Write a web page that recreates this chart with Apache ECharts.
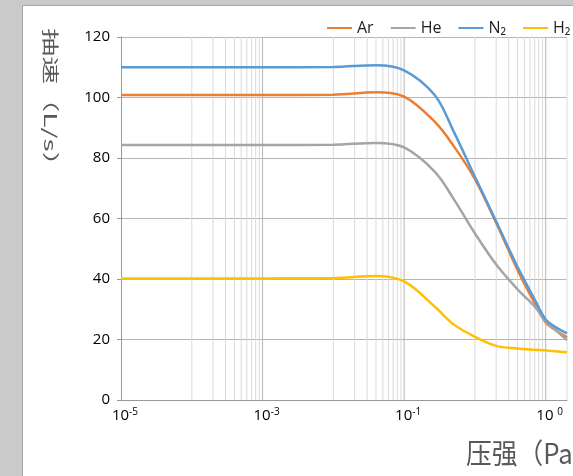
<!DOCTYPE html>
<html>
<head>
<meta charset="utf-8">
<script src="https://cdn.jsdelivr.net/npm/echarts@6/dist/echarts.min.js"></script>
<style>
html,body{margin:0;padding:0;overflow:hidden;background:#c9cac9;width:573px;height:476px;}
#bg{position:absolute;left:22px;top:5px;width:700px;height:600px;background:#fff;border-left:1px solid #a9a9a9;border-top:1px solid #a9a9a9;}
#chart{position:absolute;left:0;top:0;width:620px;height:476px;}
</style>
</head>
<body>
<div id="bg"></div>
<div id="chart"></div>
<script>
// pressure (Pa) sample points shared by all series
const pressure = [1e-5, 1e-4, 1e-3, 1e-2, 0.04, 0.1, 0.27, 0.5, 1, 2, 4, 7, 10, 14, 20];
const seriesNames = ['Ar', 'He', 'N₂', 'H₂'];
const arSpeed = [100.8, 100.8, 100.8, 100.9, 101.7, 100.3, 92, 84, 73, 58.5, 43, 32, 25.6, 23, 20.7];
const heSpeed = [84.3, 84.3, 84.3, 84.4, 85, 83.5, 75.5, 66.5, 55.1, 44.8, 36.6, 30.9, 26, 23, 19.8];
const n2Speed = [110, 110, 110, 110.1, 110.7, 109, 100.8, 88.8, 73.8, 59, 44, 33.2, 26.6, 24, 22];
const h2Speed = [40.2, 40.2, 40.2, 40.3, 41, 39.2, 30.9, 25, 20.9, 17.9, 17, 16.6, 16.4, 16.1, 15.8];
const colors = ['#ED7D31', '#A5A5A5', '#5B9BD5', '#FFC000'];
// x tick labels (as drawn in the reference)
const xTickValues = [1e-5, 1e-3, 1e-1, 10];
const xTickBase = ['10', '10', '10', '10 '];
const xTickExp = ['-5', '-3', '-1', '0'];
// vertical grid lines
const xMajorGrid = [1e-3, 1e-1, 10];
const xMinorDecades = [-4, -2, 0];
const xMinorMultipliers = [1, 2, 3, 4, 5, 6, 7, 8, 9];
const xEdge = 20;
const yMin = 0, yMax = 120, yStep = 20;
const yTitle = '抽速（L/s）';
const xTitle = '压强（Pa）';

const allSpeeds = [arSpeed, heSpeed, n2Speed, h2Speed];
const latin = '"Open Sans","Noto Sans",sans-serif';

const minorValues = [];
xMinorDecades.forEach(d => xMinorMultipliers.forEach(k => minorValues.push(k * Math.pow(10, d))));
minorValues.push(xEdge);

function gridSeries(v, color) {
  return {
    type: 'line', silent: true, symbol: 'none', showSymbol: false, z: 1,
    lineStyle: { color: color, width: 1 },
    data: [[v, yMin], [v, yMax]]
  };
}

const series = [];
minorValues.forEach(v => series.push(gridSeries(v, '#dadada')));
xMajorGrid.forEach(v => series.push(gridSeries(v, '#b5b5b5')));
seriesNames.forEach((name, i) => series.push({
  name: name,
  type: 'line',
  smooth: 0.35,
  showSymbol: false,
  symbol: 'none',
  z: 3,
  lineStyle: { color: colors[i], width: 2.5 },
  itemStyle: { color: colors[i] },
  data: pressure.map((p, j) => [p, allSpeeds[i][j]])
}));

const chart = echarts.init(document.getElementById('chart'), null, { renderer: 'canvas' });
chart.setOption({
  animation: false,
  backgroundColor: 'transparent',
  grid: { left: 121, top: 37, width: 446, height: 363, containLabel: false },
  legend: {
    data: seriesNames,
    left: 322, top: 15,
    icon: 'rect', itemWidth: 25, itemHeight: 2, itemGap: 17,
    textStyle: { fontFamily: latin, fontSize: 16, color: '#1f1f1f' }
  },
  xAxis: {
    type: 'log', logBase: 10, min: 1e-5, max: xEdge,
    axisLine: { show: true, lineStyle: { color: '#9a9a9a', width: 1 } },
    axisTick: { show: false },
    splitLine: { show: false },
    minorSplitLine: { show: false },
    axisLabel: {
      customValues: xTickValues,
      margin: 7,
      formatter: function (v) {
        let idx = 0, best = Infinity;
        xTickValues.forEach((t, i) => { const d = Math.abs(Math.log10(t) - Math.log10(v)); if (d < best) { best = d; idx = i; } });
        return '{b|' + xTickBase[idx] + '}{s|' + xTickExp[idx] + '}';
      },
      rich: {
        b: { fontFamily: latin, fontSize: 15, color: '#000', padding: [0, 0, 0, 8] },
        s: { fontFamily: latin, fontSize: 10, color: '#000', padding: [0, 0, 7, 0] }
      }
    }
  },
  yAxis: {
    type: 'value', min: yMin, max: yMax, interval: yStep,
    axisLine: { show: true, lineStyle: { color: '#9a9a9a', width: 1 } },
    axisTick: { show: true, length: 4, lineStyle: { color: '#9a9a9a' } },
    splitLine: { show: true, lineStyle: { color: '#b5b5b5', width: 1 } },
    axisLabel: { margin: 11, fontFamily: latin, fontSize: 15, color: '#000' }
  },
  graphic: [
    {
      type: 'text', x: 50, y: 104, rotation: -Math.PI / 2, scaleX: 1, scaleY: 0.6,
      style: { text: yTitle, font: '28px "Noto Sans CJK SC"', fill: '#595959', textAlign: 'center', textVerticalAlign: 'middle' }
    },
    {
      type: 'text', x: 466, y: 453, scaleX: 0.92, scaleY: 1,
      style: { text: xTitle, font: '28px "Noto Sans CJK SC"', fill: '#595959', textAlign: 'left', textVerticalAlign: 'middle' }
    }
  ],
  series: series
});
</script>
</body>
</html>
